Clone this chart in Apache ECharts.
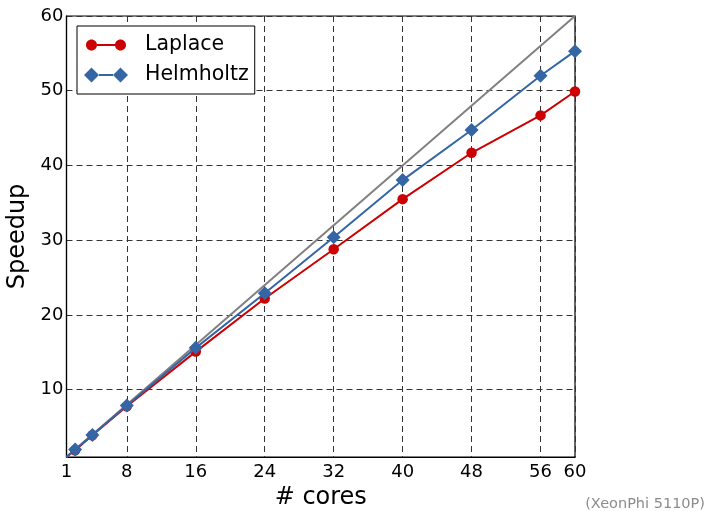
<!DOCTYPE html>
<html>
<head>
<meta charset="utf-8">
<script src="https://cdn.jsdelivr.net/npm/echarts@6/dist/echarts.min.js"></script>
<style>
  html, body { margin: 0; padding: 0; background: #fff; }
  #speedup { width: 707px; height: 511px; }
</style>
</head>
<body>
<div id="speedup"></div>
<script>
  // values
  const cores = [1, 2, 4, 8, 16, 24, 32, 40, 48, 56, 60];
  const laplace = [1, 1.9, 3.9, 7.8, 15.1, 22.2, 28.8, 35.5, 41.7, 46.7, 49.9];
  const helmholtz = [1, 2.0, 3.95, 7.9, 15.6, 22.9, 30.4, 38.05, 44.75, 52.0, 55.3];
  const ideal = [[1, 1], [60, 60]];
  const xTicks = [1, 8, 16, 24, 32, 40, 48, 56, 60];
  const yTicks = [10, 20, 30, 40, 50, 60];

  const FONT = 'DejaVu Sans';
  const RED = '#cc0000';
  const BLUE = '#3465a4';

  // first point sits in the corner, matplotlib clips its marker
  function toData(vals) {
    return cores.map(function (c, i) {
      return i === 0 ? { value: [c, vals[i]], symbol: 'none' } : [c, vals[i]];
    });
  }

  // legend icons: line with a marker on each end
  function circ(cx, cy, r) {
    const k = r * 0.5523;
    return 'M' + (cx - r) + ' ' + cy +
      'C' + (cx - r) + ' ' + (cy - k) + ' ' + (cx - k) + ' ' + (cy - r) + ' ' + cx + ' ' + (cy - r) +
      'C' + (cx + k) + ' ' + (cy - r) + ' ' + (cx + r) + ' ' + (cy - k) + ' ' + (cx + r) + ' ' + cy +
      'C' + (cx + r) + ' ' + (cy + k) + ' ' + (cx + k) + ' ' + (cy + r) + ' ' + cx + ' ' + (cy + r) +
      'C' + (cx - k) + ' ' + (cy + r) + ' ' + (cx - r) + ' ' + (cy + k) + ' ' + (cx - r) + ' ' + cy + 'Z';
  }
  const circleIcon = 'path://M0 0M44 15' + circ(7.5, 7.5, 5.5) + 'M13 6.5L31 6.5L31 8.5L13 8.5Z' + circ(36.5, 7.5, 5.5);
  const diamondIcon = 'path://M0 0M44 15M0 7.5L7.5 0L15 7.5L7.5 15ZM15 6.5L29 6.5L29 8.5L15 8.5ZM29 7.5L36.5 0L44 7.5L36.5 15Z';

  const myEcharts = echarts.init(document.getElementById('speedup'));
  const options = {
    animation: false,
    textStyle: { fontFamily: FONT },
    grid: {
      left: 66.5, right: 132, top: 16, bottom: 54,
      outerBoundsMode: 'none',
      containLabel: false,
      show: true, borderColor: '#000', borderWidth: 1.2
    },
    legend: {
      orient: 'vertical',
      left: 77, top: 26,
      padding: [8, 6, 8, 7],
      itemGap: 8,
      itemWidth: 44, itemHeight: 15,
      backgroundColor: '#fff',
      borderColor: '#000', borderWidth: 1,
      borderRadius: 0,
      itemStyle: { borderWidth: 0 },
      textStyle: { fontFamily: FONT, fontSize: 20.5, color: '#000', padding: [0, 0, 0, 12], lineHeight: 22 },
      data: [
        { name: 'Laplace', icon: circleIcon },
        { name: 'Helmholtz', icon: diamondIcon }
      ]
    },
    xAxis: {
      type: 'value',
      min: 1, max: 60,
      name: '# cores',
      nameLocation: 'middle',
      nameGap: 28,
      nameTextStyle: { fontFamily: FONT, fontSize: 24, color: '#000' },
      axisLine: { lineStyle: { color: '#000', width: 1.2 } },
      axisTick: { show: false, customValues: xTicks },
      axisLabel: { customValues: xTicks, fontFamily: FONT, fontSize: 18, color: '#000', margin: 6 },
      splitLine: { show: true, lineStyle: { color: '#333', width: 1, type: [6, 4] } }
    },
    yAxis: {
      type: 'value',
      min: 1, max: 60,
      name: 'Speedup',
      nameLocation: 'middle',
      nameGap: 27,
      nameTextStyle: { fontFamily: FONT, fontSize: 24, color: '#000' },
      axisLine: { lineStyle: { color: '#000', width: 1.2 } },
      axisTick: { show: false, customValues: yTicks },
      axisLabel: { customValues: yTicks, fontFamily: FONT, fontSize: 18, color: '#000', margin: 3 },
      splitLine: { show: true, lineStyle: { color: '#333', width: 1, type: [6, 4] } }
    },
    series: [
      {
        name: 'ideal',
        type: 'line',
        data: ideal,
        showSymbol: false,
        lineStyle: { color: '#808080', width: 2 },
        itemStyle: { color: '#808080' },
        z: 2
      },
      {
        name: 'Laplace',
        type: 'line',
        data: toData(laplace),
        symbol: 'circle',
        symbolSize: 10.5,
        lineStyle: { color: RED, width: 2 },
        itemStyle: { color: RED },
        z: 3
      },
      {
        name: 'Helmholtz',
        type: 'line',
        data: toData(helmholtz),
        symbol: 'diamond',
        symbolSize: 14,
        lineStyle: { color: BLUE, width: 2 },
        itemStyle: { color: BLUE },
        z: 4
      }
    ],
    graphic: [{
      type: 'text',
      right: 2, top: 497,
      style: { text: '(XeonPhi 5110P)', fill: '#8c8c8c', font: '14.5px "DejaVu Sans"' }
    }]
  };
  myEcharts.setOption(options, true);
</script>
</body>
</html>
